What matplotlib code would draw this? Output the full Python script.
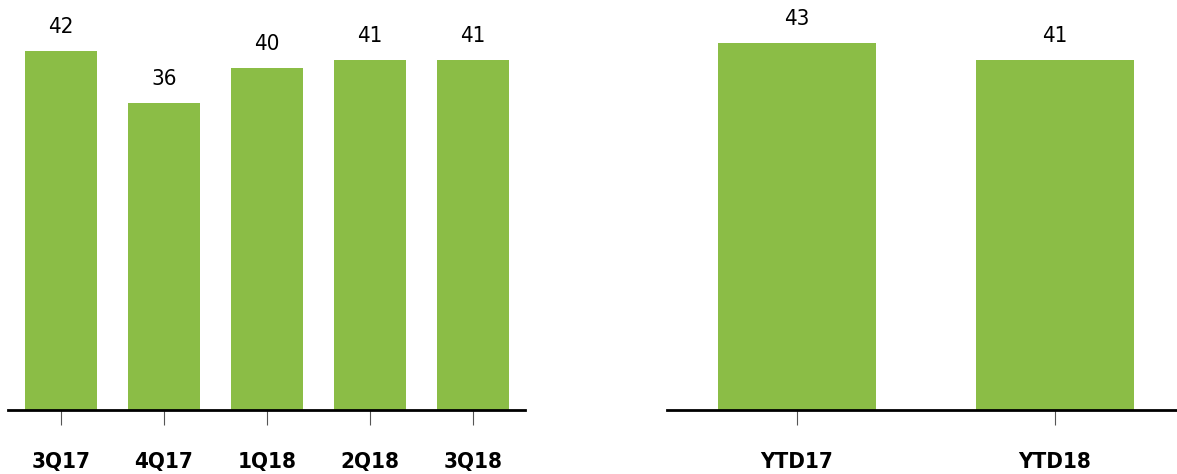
import matplotlib.pyplot as plt

# Dados
quarters = ['3Q17', '4Q17', '1Q18', '2Q18', '3Q18']
quarter_vals = [42, 36, 40, 41, 41]
ytd = ['YTD17', 'YTD18']
ytd_vals = [43, 41]

green = '#8bbd46'
plt.rcParams['font.family'] = 'DejaVu Sans'
plt.rcParams['font.stretch'] = 'condensed'

fig = plt.figure(figsize=(11.77, 4.74), dpi=100)
ax1 = fig.add_axes([8 / 1177, 0.135, (525 - 8) / 1177, 0.865])
ax2 = fig.add_axes([667 / 1177, 0.135, (1177 - 667) / 1177, 0.865])


def draw(ax, cats, vals, width, xlim):
    x = range(len(cats))
    bars = ax.bar(x, vals, width=width, color=green)
    for b, v in zip(bars, vals):
        ax.annotate(str(v), (b.get_x() + b.get_width() / 2, v),
                    xytext=(0, 10), textcoords='offset points',
                    ha='center', va='bottom', fontsize=16, stretch='condensed')
    ax.set_xticks(list(x))
    ax.set_xticklabels(cats, fontsize=16, fontweight='bold', stretch='condensed')
    ax.tick_params(axis='x', length=11, width=0.8, color='#555555', pad=19)
    ax.set_xlim(xlim)
    ax.set_ylim(0, 48)
    ax.set_yticks([])
    for s in ['top', 'right', 'left']:
        ax.spines[s].set_visible(False)
    ax.spines['bottom'].set_linewidth(2)


draw(ax1, quarters, quarter_vals, 0.7, (-0.515, 4.505))
draw(ax2, ytd, ytd_vals, 0.61, (-0.504, 1.473))

plt.savefig('out.png', dpi=100)
